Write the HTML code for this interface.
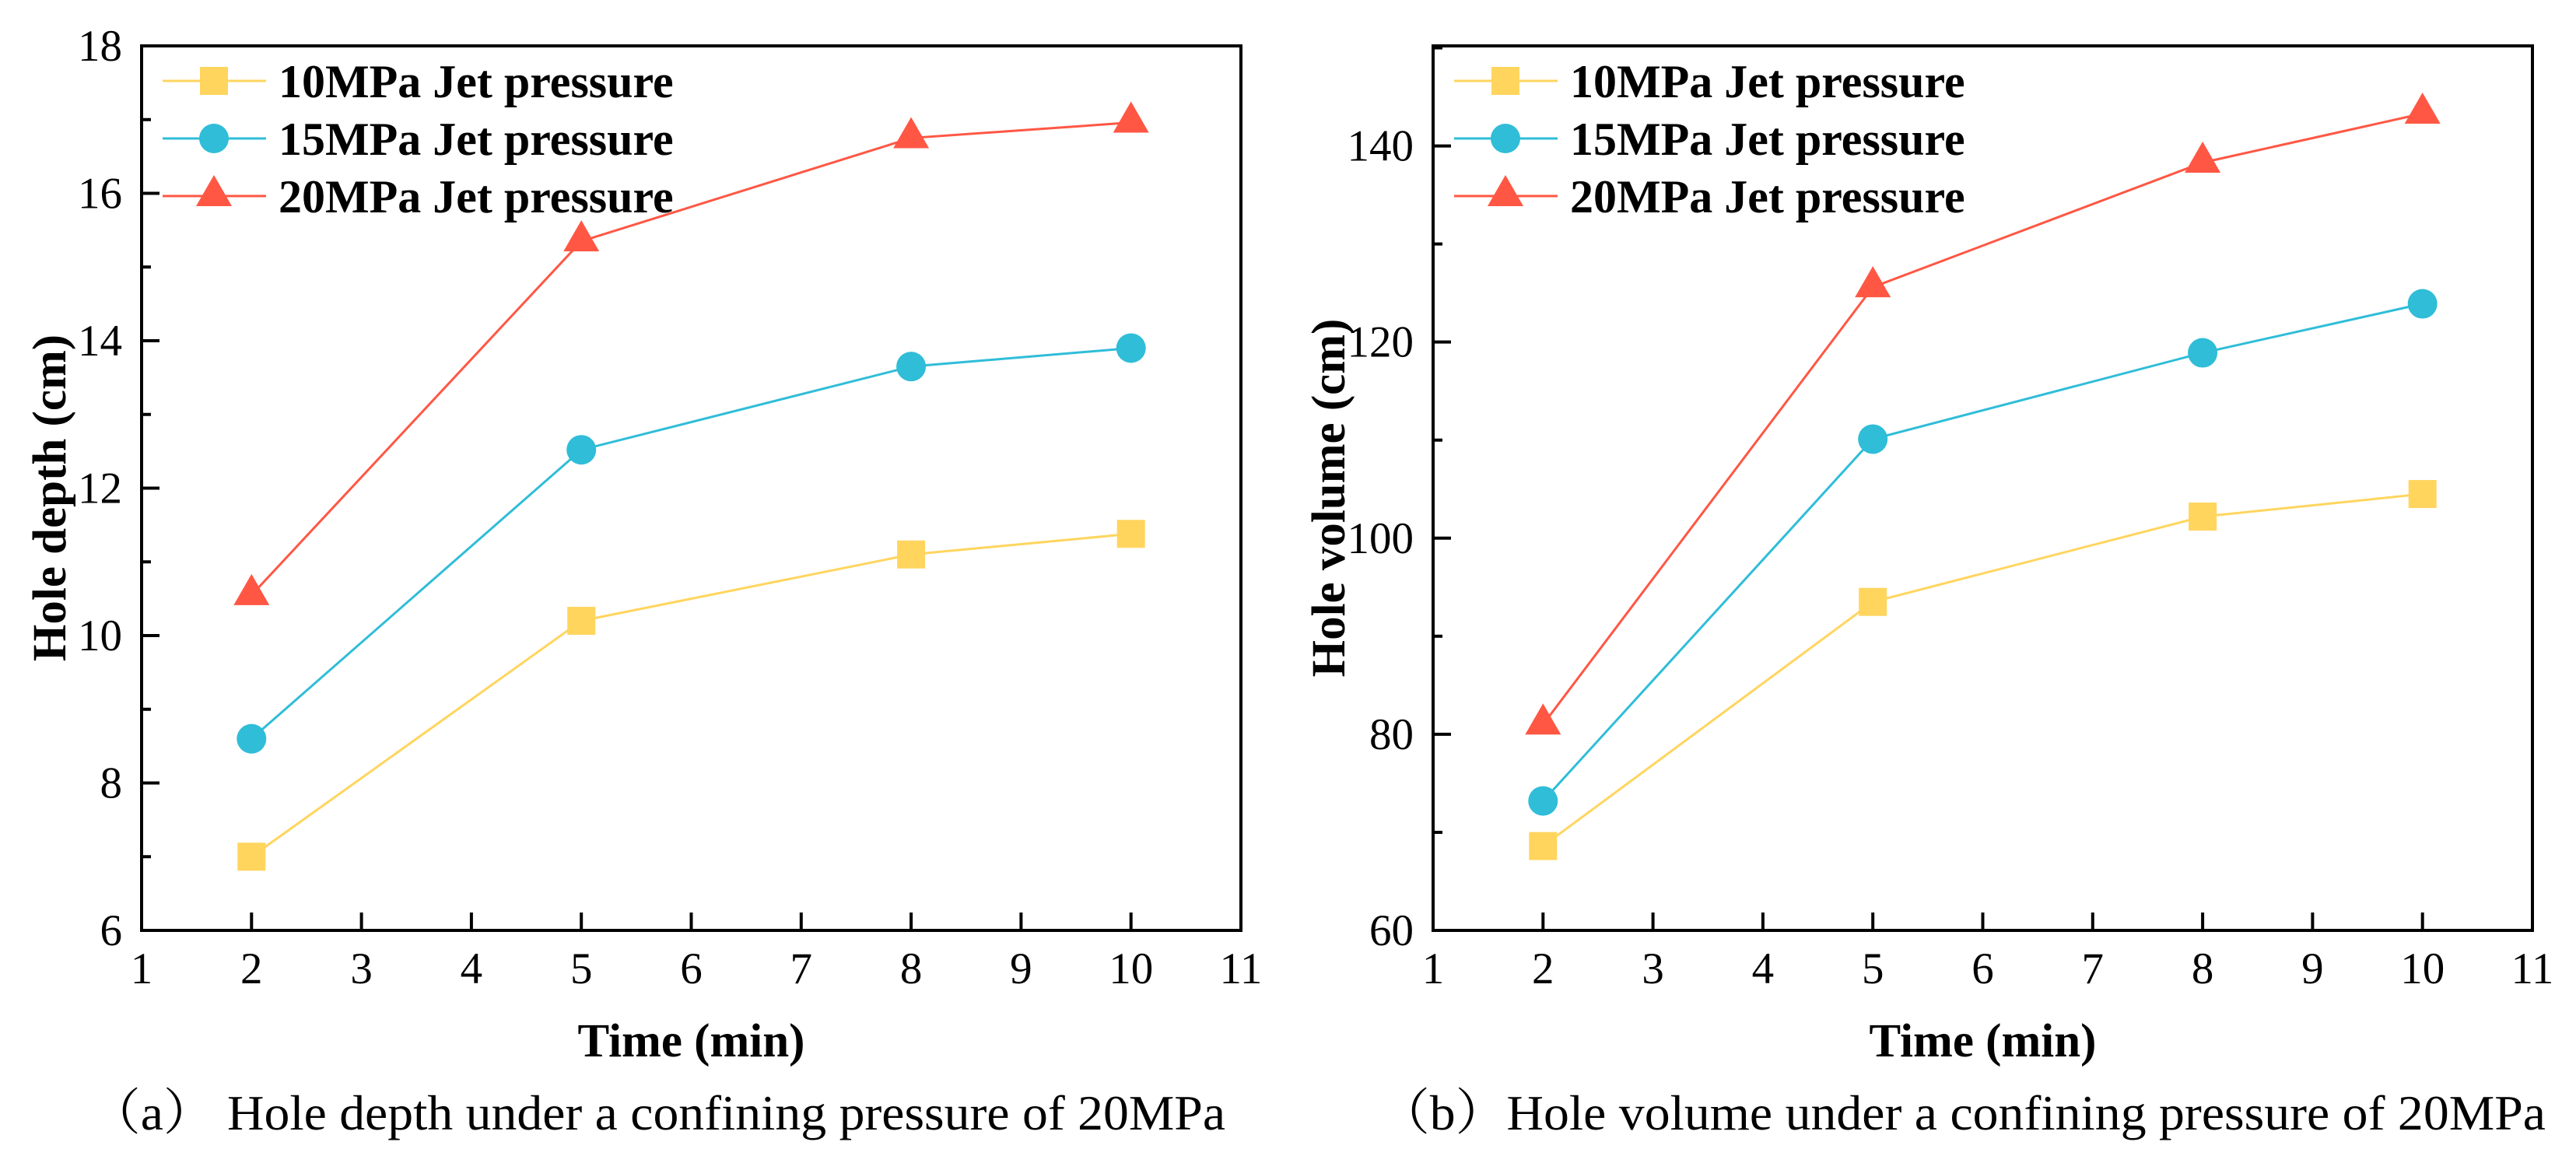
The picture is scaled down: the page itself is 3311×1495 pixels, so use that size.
<!DOCTYPE html>
<html><head><meta charset="utf-8"><style>
html,body{margin:0;padding:0;background:#fff;}
svg{display:block;}
text{font-family:"Liberation Serif","Noto Serif CJK SC",serif;fill:#000;}
</style></head><body>
<svg id="fig" width="3311" height="1495" viewBox="0 0 3311 1495" xmlns="http://www.w3.org/2000/svg"></svg>
<script>
const times = [2, 5, 8, 10];
const depth10 = [7.0, 10.2, 11.1, 11.38];
const depth15 = [8.6, 12.52, 13.65, 13.9];
const depth20 = [10.55, 15.35, 16.75, 16.96];
const vol10 = [68.6, 93.5, 102.2, 104.5];
const vol15 = [73.2, 110.1, 118.9, 123.9];
const vol20 = [81.0, 125.6, 138.3, 143.3];
const xTicks = [1,2,3,4,5,6,7,8,9,10,11];
const depthTicks = [6,8,10,12,14,16,18];
const volTicks = [60,80,100,120,140];
const seriesNames = ["10MPa Jet pressure","15MPa Jet pressure","20MPa Jet pressure"];

const NS="http://www.w3.org/2000/svg";
const svg=document.getElementById('fig');
const colors=["#FFD55E","#2FBDD8","#FF5744"];
const shapes=["square","circle","triangle"];
function mk(tag,attrs,parent){const e=document.createElementNS(NS,tag);for(const k in attrs)e.setAttribute(k,attrs[k]);(parent||svg).appendChild(e);return e;}

function marker(g,shape,cx,cy,color){
  let m;
  if(shape==="square"){m=mk('rect',{x:cx-18,y:cy-18,width:36,height:36,fill:color},g);}
  else if(shape==="circle"){m=mk('circle',{cx:cx,cy:cy,r:19,fill:color},g);}
  else{m=mk('polygon',{points:`${cx},${cy-27} ${cx+23},${cy+13} ${cx-23},${cy+13}`,fill:color},g);}
  
  
}

function panel(opt){
  const L=opt.left,R=opt.left+1413,T=59,B=1196;
  const xs=v=>L+(v-1)/10*(R-L);
  const ys=v=>B-(v-opt.ymin)/(opt.ymax-opt.ymin)*(B-T);
  const g=mk('g',{});
  
  
  const sets=opt.series;
  sets.forEach((vals,si)=>{
    const sg=mk('g',{},g);
    
    
    const pts=times.map((t,i)=>xs(t)+','+ys(vals[i])).join(' ');
    const pl=mk('polyline',{points:pts,fill:'none',stroke:colors[si],'stroke-width':3},sg);
    
    
    times.forEach((t,i)=>marker(sg,shapes[si],xs(t),ys(vals[i]),colors[si]));
  });
  const fr=mk('rect',{x:L,y:T,width:R-L,height:B-T,fill:'none',stroke:'#000','stroke-width':4},g);
  
  
  xTicks.forEach(v=>{
    const x=xs(v);
    const tl=mk('line',{x1:x,y1:B,x2:x,y2:B-23,stroke:'#000','stroke-width':4},g);
    
    
    const t=mk('text',{x:x,y:1264,'font-size':57,'text-anchor':'middle'},g);
    t.textContent=v;
    
    
  });
  const step=opt.ticks[1]-opt.ticks[0];
  opt.ticks.forEach(v=>{
    const y=ys(v);
    const tl=mk('line',{x1:L,y1:y,x2:L+23,y2:y,stroke:'#000','stroke-width':4},g);
    
    
    const mv=v+step/2;
    if(mv<opt.ymax){
      const ml=mk('line',{x1:L,y1:ys(mv),x2:L+12,y2:ys(mv),stroke:'#000','stroke-width':4},g);
      
      
    }
    const t=mk('text',{x:L-25,y:y+19,'font-size':57,'text-anchor':'end'},g);
    t.textContent=v;
    
    
  });
  const xt=mk('text',{x:(L+R)/2,y:1358,'font-size':61,'font-weight':'bold','text-anchor':'middle'},g);
  xt.textContent='Time (min)';
  
  
  const ytx=opt.ytitleX;
  const yt=mk('text',{x:ytx,y:640,'font-size':61,'font-weight':'bold','text-anchor':'middle',transform:`rotate(-90 ${ytx} 640)`},g);
  yt.textContent=opt.ytitle;
  
  
  const lg=mk('g',{},g);
  
  
  [104,178,252].forEach((y,si)=>{
    const eg=mk('g',{},lg);
    
    
    mk('line',{x1:L+27,y1:y,x2:L+160,y2:y,stroke:colors[si],'stroke-width':3},eg);
    marker(eg,shapes[si],L+93,y,colors[si]);
    const t=mk('text',{x:L+176,y:y+21,'font-size':60,'font-weight':'bold'},eg);
    t.textContent=seriesNames[si];
  });
  const c=mk('text',{x:opt.capX,y:1452,'font-size':64,textLength:opt.capW,lengthAdjust:'spacingAndGlyphs'},g);
  c.textContent=opt.caption;
  
  
}

panel({name:'hole-depth-chart',left:182,ymin:6,ymax:18,ticks:depthTicks,series:[depth10,depth15,depth20],ytitle:'Hole depth (cm)',ytitleX:84,caption:'（a） Hole depth under a confining pressure of 20MPa',capX:115,capW:1460});
panel({name:'hole-volume-chart',left:1842,ymin:60,ymax:150.2,ticks:volTicks,series:[vol10,vol15,vol20],ytitle:'Hole volume (cm)',ytitleX:1728,caption:'（b）Hole volume under a confining pressure of 20MPa',capX:1772,capW:1500});
</script>
</body></html>
